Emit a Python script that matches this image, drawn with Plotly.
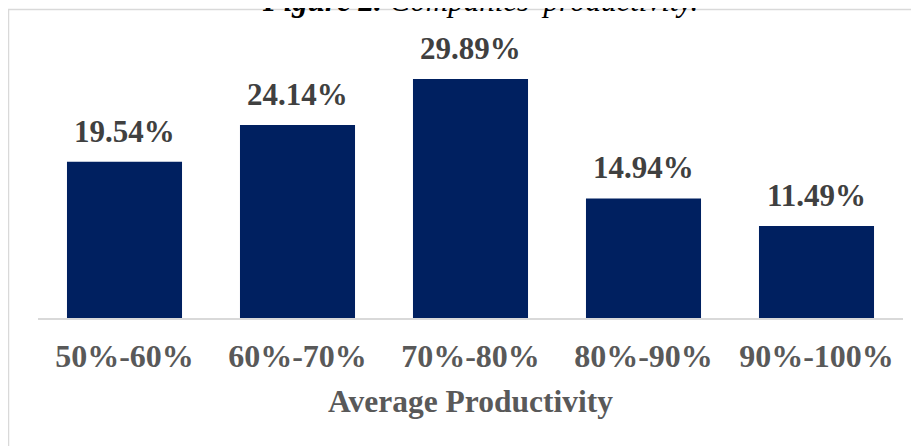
import plotly.graph_objects as go

categories = ["50%-60%", "60%-70%", "70%-80%", "80%-90%", "90%-100%"]
values = [19.54, 24.14, 29.89, 14.94, 11.49]
labels = ["19.54%", "24.14%", "29.89%", "14.94%", "11.49%"]

# page has an 8px body margin; figure coordinates below are page - 8
W, H = 911, 438
L, R, T, B = 30, 16, 30, 128
plot_w = W - L - R
plot_h = H - T - B

def px_x(p):
    return (p - L) / plot_w

def px_y(p):
    return (H - B - p) / plot_h

serif = "Liberation Serif, Times New Roman, serif"
bold_lbl = dict(family=serif, size=31, color="#404040", weight="bold")
bold_tick = dict(family=serif, size=32, color="#595959", weight="bold")
bold_title = dict(family=serif, size=31.5, color="#595959", weight="bold")

fig = go.Figure(go.Bar(
    x=categories, y=values,
    marker=dict(color="#002060", line=dict(width=0)),
    hoverinfo="skip",
))

for c, v, t in zip(categories, values, labels):
    fig.add_annotation(x=c, y=v, text=t, showarrow=False,
                       yanchor="bottom", yshift=11, font=bold_lbl)

fig.add_annotation(xref="paper", yref="paper", x=px_x(472), y=px_y(12),
                   yanchor="bottom", xanchor="center", showarrow=False,
                   text="<b><i>Figure 2.</i></b><i> Companies' productivity.</i>",
                   font=dict(family=serif, size=31, color="#000000"))

fig.add_shape(type="rect", xref="paper", yref="paper",
              x0=px_x(0.5), x1=px_x(940), y0=px_y(470), y1=px_y(1.5),
              line=dict(color="#d9d9d9", width=1.5), layer="below")

fig.update_layout(
    width=W, height=H,
    margin=dict(l=L, r=R, t=T, b=B),
    paper_bgcolor="white", plot_bgcolor="white",
    bargap=0.335,
    showlegend=False,
    xaxis=dict(
        showline=True, linecolor="#d9d9d9", linewidth=1.5,
        showgrid=False, ticks="", ticklabelstandoff=9,
        tickfont=bold_tick,
        title=dict(text="Average Productivity", standoff=17, font=bold_title),
    ),
    yaxis=dict(range=[0, 35], visible=False, showgrid=False, zeroline=False),
)

fig.write_html("out.html")
